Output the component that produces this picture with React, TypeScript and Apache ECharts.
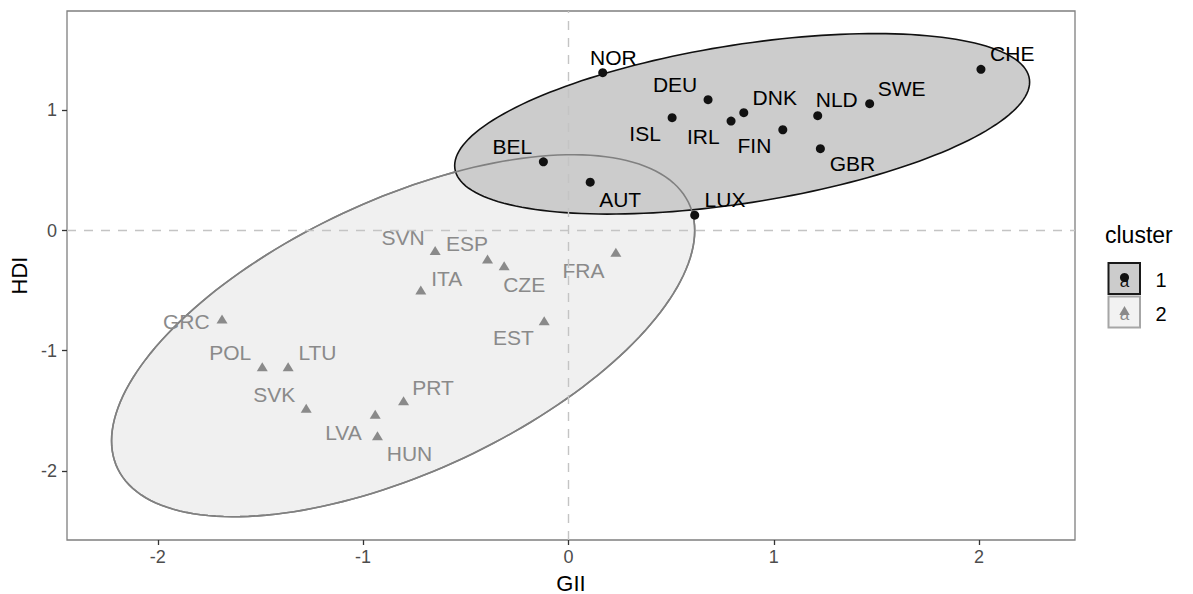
import React, { useEffect, useRef } from "react";
import * as echarts from "echarts";

// ---- data ----
const cluster1Names = ["NOR", "DEU", "DNK", "IRL", "ISL", "FIN", "BEL", "AUT", "LUX", "CHE", "SWE", "NLD", "GBR"];
const cluster1GII = [0.167, 0.68, 0.854, 0.792, 0.505, 1.044, -0.122, 0.106, 0.615, 2.009, 1.467, 1.214, 1.227];
const cluster1HDI = [1.314, 1.089, 0.981, 0.911, 0.939, 0.839, 0.572, 0.403, 0.128, 1.342, 1.056, 0.956, 0.681];

const cluster2Names = ["SVN", "ESP", "CZE", "ITA", "FRA", "EST", "PRT", "GRC", "POL", "LTU", "SVK", "LVA", "HUN"];
const cluster2GII = [-0.649, -0.394, -0.313, -0.719, 0.231, -0.118, -0.803, -1.687, -1.491, -1.365, -1.277, -0.941, -0.93];
const cluster2HDI = [-0.167, -0.236, -0.292, -0.494, -0.181, -0.75, -1.417, -0.736, -1.133, -1.133, -1.478, -1.528, -1.708];

// ellipse statistics per cluster (centre, sd along GII / HDI, correlation)
const ellipseCenterGII = [0.846, -0.805];
const ellipseCenterHDI = [0.888, -0.875];
const ellipseSdGII = [1.4, 1.42];
const ellipseSdHDI = [0.751, 1.506];
const ellipseRho = [0.4626, 0.581];

const xTicks = [-2, -1, 0, 1, 2];
const yTicks = [-2, -1, 0, 1];
const legendLabels = ["1", "2"];

// label placement (pixel offsets, like ggrepel)
const labelOffset: Record<string, [number, number]> = {
  NOR: [10.6, -15.6], DEU: [-33, -15], DNK: [31, -15.6], IRL: [-27.7, 15.3], ISL: [-27, 16],
  FIN: [-28.4, 15.7], BEL: [-31, -15.3], AUT: [30, 17.6], LUX: [30.3, -15.4], CHE: [31.3, -15.7],
  SWE: [32, -15], NLD: [19, -16], GBR: [32, 15],
  SVN: [-32, -13.5], ESP: [-20.6, -15], CZE: [20, 19.3], ITA: [26, -11], FRA: [-32.4, 18.3],
  EST: [-30.7, 17.3], PRT: [29.4, -13.3], GRC: [-35.7, 2.4], POL: [-32, -14.3], LTU: [29.3, -14.3],
  SVK: [-32, -14], LVA: [-31.7, 18.4], HUN: [32, 18],
};

const FONT = "'Liberation Sans', Arial, sans-serif";
const C1 = "#111111";
const C2 = "#8a8a8a";

function makePoints(names: string[], xs: number[], ys: number[]) {
  return names.map((n, i) => ({
    name: n,
    value: [xs[i], ys[i]],
    label: { offset: labelOffset[n] || [0, 0] },
  }));
}

function ellipseSeries(idx: number, fill: string, stroke: string, lw: number) {
  return {
    type: "custom",
    silent: true,
    data: [[idx]],
    renderItem: (params: any, api: any) => {
      const k = api.value(0);
      const cx = ellipseCenterGII[k];
      const cy = ellipseCenterHDI[k];
      const sx = ellipseSdGII[k];
      const sy = ellipseSdHDI[k];
      const r = ellipseRho[k];
      const q = Math.sqrt(1 - r * r);
      const pts: number[][] = [];
      const N = 180;
      for (let i = 0; i < N; i++) {
        const t = (2 * Math.PI * i) / N;
        const x = cx + sx * Math.cos(t);
        const y = cy + sy * (r * Math.cos(t) + q * Math.sin(t));
        pts.push(api.coord([x, y]));
      }
      return {
        type: "polygon",
        shape: { points: pts },
        style: { fill, stroke, lineWidth: lw },
      };
    },
  };
}

export default function App() {
  const ref = useRef<HTMLDivElement>(null);
  useEffect(() => {
    const chart = echarts.init(ref.current!, null, { renderer: "svg" });
    const option: any = {
      animation: false,
      backgroundColor: "#ffffff",
      textStyle: { fontFamily: FONT },
      grid: {
        left: 67,
        right: 118,
        top: 11,
        bottom: 54,
        show: true,
        borderColor: "#7f7f7f",
        borderWidth: 1.3,
        backgroundColor: "transparent",
        containLabel: false,
        outerBoundsMode: "none",
      },
      xAxis: {
        type: "value",
        min: -2.442,
        max: 2.467,
        splitLine: { show: false },
        axisLine: { show: false, onZero: false },
        axisTick: { show: true, length: 5, customValues: xTicks, lineStyle: { color: "#333333", width: 1.3 } },
        axisLabel: { customValues: xTicks, color: "#4d4d4d", fontSize: 18, margin: 8, fontFamily: FONT },
        name: "GII",
        nameLocation: "middle",
        nameGap: 32,
        nameTextStyle: { fontSize: 22, color: "#000000", fontFamily: FONT },
      },
      yAxis: {
        type: "value",
        min: -2.575,
        max: 1.827,
        splitLine: { show: false },
        axisLine: { show: false, onZero: false },
        axisTick: { show: true, length: 5, customValues: yTicks, lineStyle: { color: "#333333", width: 1.3 } },
        axisLabel: { customValues: yTicks, color: "#4d4d4d", fontSize: 18, margin: 10, fontFamily: FONT },
        name: "HDI",
        nameLocation: "middle",
        nameGap: 35,
        nameTextStyle: { fontSize: 22, color: "#000000", fontFamily: FONT },
      },
      series: [
        ellipseSeries(1, "#f0f0f0", "#808080", 1.6),
        ellipseSeries(0, "#cccccc", "#111111", 1.6),
        ellipseSeries(1, "none", "#808080", 1.6),
        {
          type: "line",
          data: [],
          silent: true,
          markLine: {
            silent: true,
            symbol: "none",
            label: { show: false },
            lineStyle: { color: "#c4c4c4", type: [9, 8], width: 1.4 },
            data: [{ xAxis: 0 }, { yAxis: 0 }],
          },
        },
        {
          type: "scatter",
          name: "1",
          symbol: "circle",
          symbolSize: 9,
          itemStyle: { color: C1, opacity: 1 },
          label: {
            show: true,
            position: "inside",
            formatter: "{b}",
            color: "#000000",
            fontSize: 21,
            fontFamily: FONT,
          },
          data: makePoints(cluster1Names, cluster1GII, cluster1HDI),
        },
        {
          type: "scatter",
          name: "2",
          symbol: "triangle",
          symbolSize: [11, 9],
          itemStyle: { color: C2, opacity: 1 },
          label: {
            show: true,
            position: "inside",
            formatter: "{b}",
            color: C2,
            fontSize: 21,
            fontFamily: FONT,
          },
          data: makePoints(cluster2Names, cluster2GII, cluster2HDI),
        },
      ],
      graphic: [
        {
          type: "text",
          left: 1105,
          top: 223,
          style: { text: "cluster", fontSize: 23, fill: "#000000", fontFamily: FONT },
        },
        {
          type: "rect",
          shape: { x: 1108.5, y: 263, width: 31.5, height: 31 },
          style: { fill: "#cccccc", stroke: "#1a1a1a", lineWidth: 2 },
        },
        {
          type: "rect",
          shape: { x: 1108.5, y: 296.5, width: 31.5, height: 31 },
          style: { fill: "#f2f2f2", stroke: "#a6a6a6", lineWidth: 2 },
        },
        {
          type: "text",
          x: 1124.5,
          y: 281,
          style: { text: "a", fontSize: 17, fill: "#111111", align: "center", verticalAlign: "middle", fontFamily: FONT },
        },
        { type: "circle", shape: { cx: 1124.5, cy: 277.5, r: 4.5 }, style: { fill: "#111111" } },
        {
          type: "text",
          x: 1124.5,
          y: 314.5,
          style: { text: "a", fontSize: 17, fill: C2, align: "center", verticalAlign: "middle", fontFamily: FONT },
        },
        {
          type: "polygon",
          shape: { points: [[1124.5, 306], [1129.7, 315], [1119.3, 315]] },
          style: { fill: C2 },
        },
        {
          type: "text",
          x: 1161,
          y: 279.5,
          style: { text: legendLabels[0], fontSize: 20, fill: "#000000", align: "center", verticalAlign: "middle", fontFamily: FONT },
        },
        {
          type: "text",
          x: 1161,
          y: 313.5,
          style: { text: legendLabels[1], fontSize: 20, fill: "#000000", align: "center", verticalAlign: "middle", fontFamily: FONT },
        },
      ],
    };
    chart.setOption(option);
    return () => chart.dispose();
  }, []);
  return (
    <div
      ref={ref}
      style={{ position: "absolute", left: 0, top: 0, width: 1193, height: 594, background: "#ffffff" }}
    />
  );
}
